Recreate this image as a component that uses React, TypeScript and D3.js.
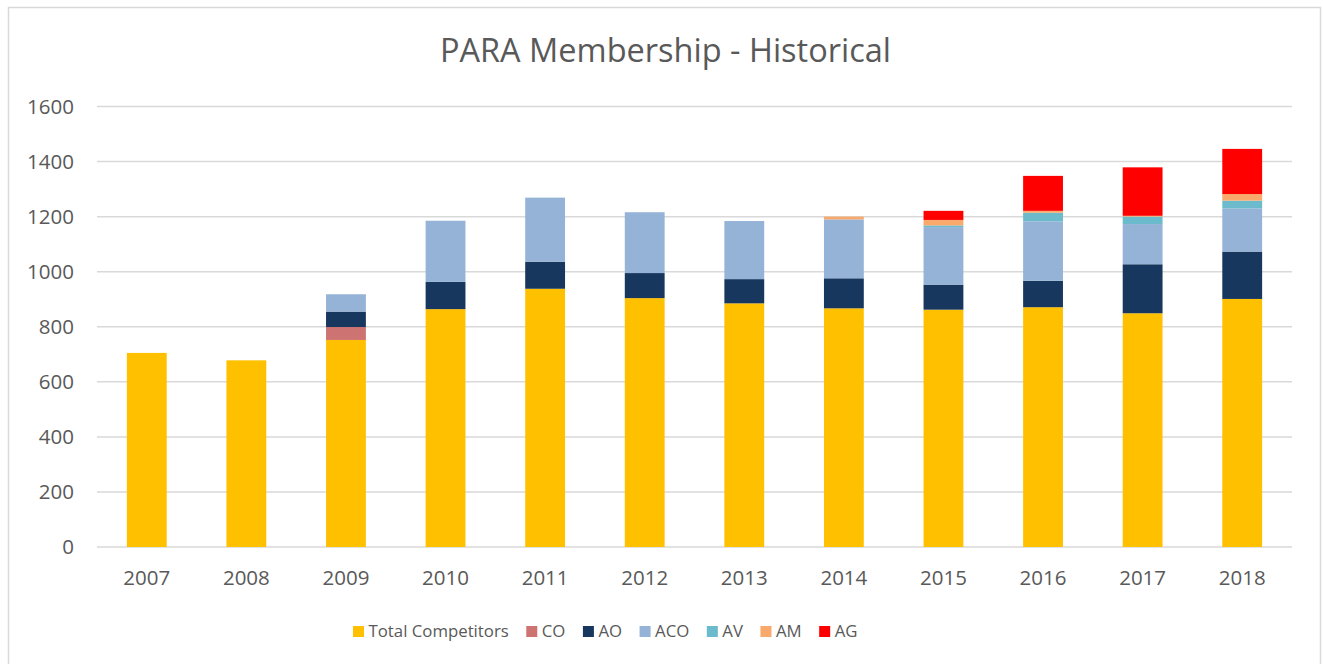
import React, { useEffect, useRef } from "react";
import * as d3 from "d3";

const years = ["2007","2008","2009","2010","2011","2012","2013","2014","2015","2016","2017","2018"];
const totalCompetitors = [705, 678, 752, 864, 938, 904, 885, 867, 862, 871, 849, 901];
const co = [0, 0, 47, 0, 0, 0, 0, 0, 0, 0, 0, 0];
const ao = [0, 0, 56, 99, 98, 91, 88, 109, 91, 96, 178, 172];
const aco = [0, 0, 63, 222, 233, 221, 211, 214, 209, 216, 146, 157];
const av = [0, 0, 0, 0, 0, 0, 0, 0, 6, 31, 27, 28];
const am = [0, 0, 0, 0, 0, 0, 0, 10, 20, 7, 3, 24];
const ag = [0, 0, 0, 0, 0, 0, 0, 0, 33, 127, 176, 164];
const seriesNames = ["Total Competitors", "CO", "AO", "ACO", "AV", "AM", "AG"];
const seriesColors = ["#FFC000", "#CD7371", "#17375E", "#95B3D7", "#6CBBCC", "#F9A96B", "#FF0000"];
const yTicks = [0, 200, 400, 600, 800, 1000, 1200, 1400, 1600];
const title = "PARA Membership - Historical";

export default function App() {
  const ref = useRef<SVGSVGElement | null>(null);
  useEffect(() => {
    const svg = d3.select(ref.current);
    svg.selectAll("*").remove();
    const W = 1323, H = 664;
    const font = "'Open Sans', sans-serif";
    const textColor = "#595959";
    const left = 97, right = 1292, top = 106.5, bottom = 547;

    svg.append("rect").attr("x", 0).attr("y", 0).attr("width", W).attr("height", H).attr("fill", "#fff");
    svg.append("rect").attr("x", 8.5).attr("y", 7.5).attr("width", 1312).attr("height", 720)
      .attr("fill", "none").attr("stroke", "#D9D9D9").attr("stroke-width", 1.5);

    svg.append("text").attr("x", 665.5).attr("y", 51).attr("dy", "0.35em").attr("text-anchor", "middle")
      .attr("font-family", font).attr("font-size", 32.5).attr("fill", textColor).text(title);

    const x = d3.scaleBand<string>().domain(years).range([left, right]).paddingInner(0.6).paddingOuter(0.3);
    const y = d3.scaleLinear().domain([0, 1600]).range([bottom, top]);

    const g = svg.append("g");
    yTicks.forEach((t) => {
      g.append("line").attr("x1", left).attr("x2", right).attr("y1", y(t)).attr("y2", y(t))
        .attr("stroke", "#D9D9D9").attr("stroke-width", 1.5);
      g.append("text").attr("x", 74).attr("y", y(t)).attr("dy", "0.35em").attr("text-anchor", "end")
        .attr("font-family", font).attr("font-size", 20.5).attr("fill", textColor).text(String(t));
    });

    const table = years.map((yr, i) => ({
      year: yr,
      "Total Competitors": totalCompetitors[i],
      CO: co[i], AO: ao[i], ACO: aco[i], AV: av[i], AM: am[i], AG: ag[i],
    }));
    const stack = d3.stack<any>().keys(seriesNames)(table);
    stack.forEach((layer, si) => {
      g.append("g").selectAll("rect").data(layer.filter((d) => d[1] - d[0] > 0)).join("rect")
        .attr("x", (d: any) => x(d.data.year)!)
        .attr("width", x.bandwidth())
        .attr("y", (d: any) => y(d[1]))
        .attr("height", (d: any) => y(d[0]) - y(d[1]))
        .attr("fill", seriesColors[si]);
    });

    years.forEach((yr) => {
      g.append("text").attr("x", x(yr)! + x.bandwidth() / 2).attr("y", 578).attr("dy", "0.35em")
        .attr("text-anchor", "middle").attr("font-family", font).attr("font-size", 20.5)
        .attr("fill", textColor).text(yr);
    });

    // legend
    const lg = svg.append("g");
    let cx = 353;
    const ly = 631;
    seriesNames.forEach((name, i) => {
      lg.append("rect").attr("x", cx).attr("y", ly - 5).attr("width", 11).attr("height", 11).attr("fill", seriesColors[i]);
      const t = lg.append("text").attr("x", cx + 15.5).attr("y", ly).attr("dy", "0.35em")
        .attr("font-family", font).attr("font-size", 16.8).attr("fill", textColor).text(name);
      const w = (t.node() as SVGTextElement).getComputedTextLength();
      cx += 15.5 + w + 17.5;
    });
  }, []);
  return (
    <svg ref={ref} width={1323} height={664}
      style={{ position: "absolute", left: 0, top: 0, display: "block" }} />
  );
}
